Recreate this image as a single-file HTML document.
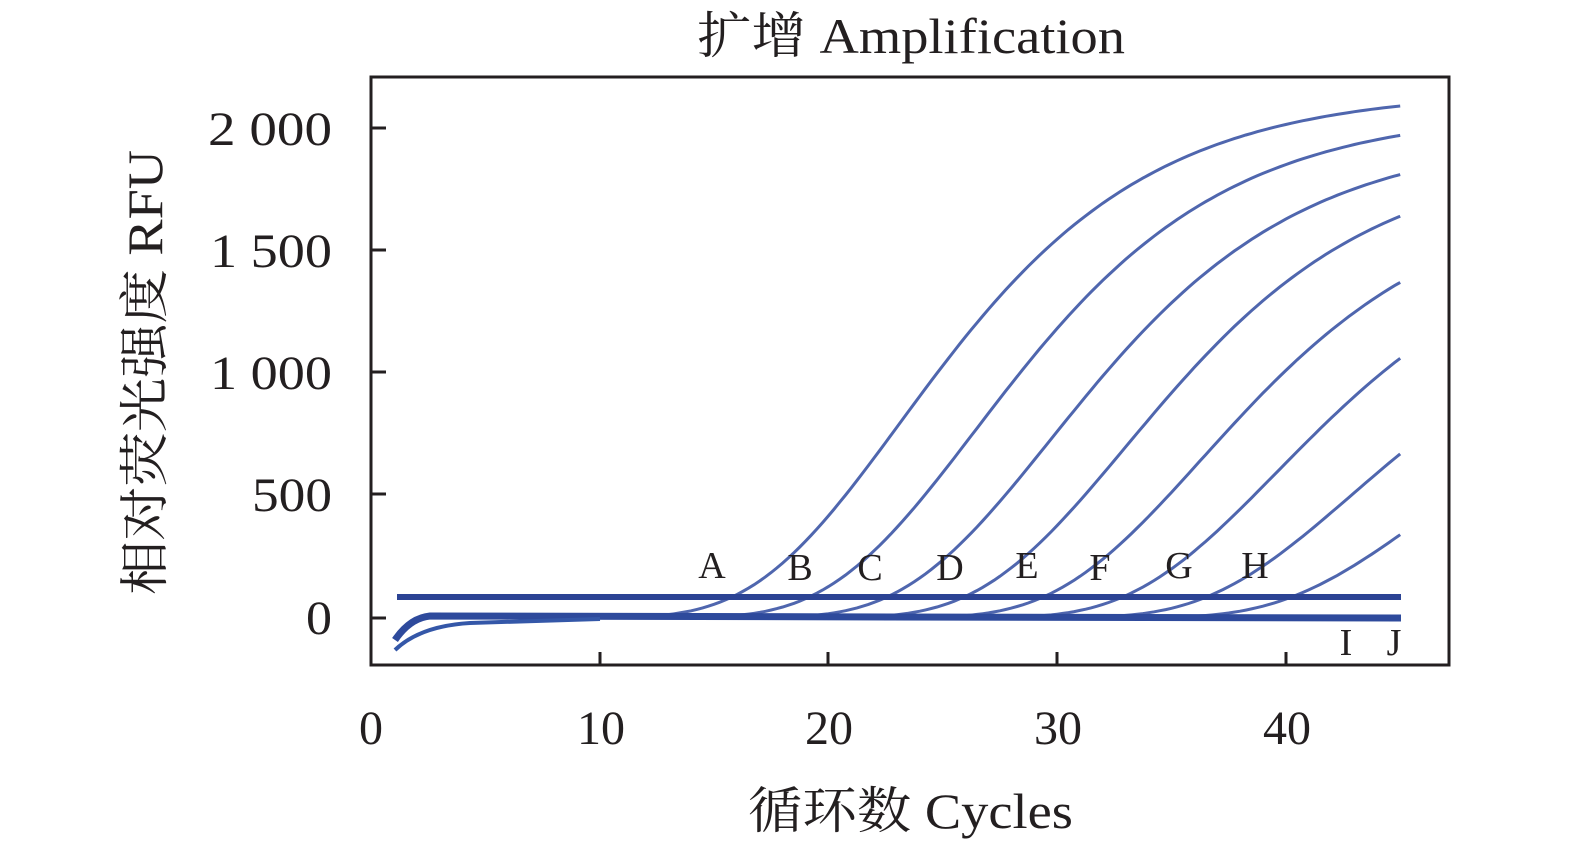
<!DOCTYPE html>
<html><head><meta charset="utf-8"><style>
html,body{margin:0;padding:0;background:#fff}
svg{display:block}
text{font-family:"Liberation Serif","Noto Serif CJK SC",serif;fill:#231f20}
</style></head><body>
<svg id="s" width="1575" height="856" viewBox="0 0 1575 856" xmlns="http://www.w3.org/2000/svg">
<text x="697" y="53" font-size="50" textLength="428" lengthAdjust="spacingAndGlyphs">扩增 Amplification</text>
<text x="748" y="828" font-size="50" textLength="325" lengthAdjust="spacingAndGlyphs">循环数 Cycles</text>
<text transform="translate(162,595) rotate(-90)" font-size="50" textLength="445" lengthAdjust="spacingAndGlyphs">相对荧光强度 RFU</text>
<g font-size="48">
<text x="208" y="145" textLength="124" lengthAdjust="spacingAndGlyphs">2 000</text>
<text x="210" y="267" textLength="122" lengthAdjust="spacingAndGlyphs">1 500</text>
<text x="210" y="389" textLength="122" lengthAdjust="spacingAndGlyphs">1 000</text>
<text x="252" y="511" textLength="80" lengthAdjust="spacingAndGlyphs">500</text>
<text x="306" y="634" textLength="26" lengthAdjust="spacingAndGlyphs">0</text>
</g>
<g font-size="48" text-anchor="middle">
<text x="371" y="744">0</text>
<text x="601" y="744">10</text>
<text x="829" y="744">20</text>
<text x="1058" y="744">30</text>
<text x="1287" y="744">40</text>
</g>
<g id="curves" fill="none" stroke="#4f66ae" stroke-width="3"></g>
<line x1="397" y1="597" x2="1401" y2="597" stroke="#2b4394" stroke-width="6"/>
<path d="M395 640 Q410 618 430 616 L1401 618" fill="none" stroke="#2e4a9c" stroke-width="7"/>
<path d="M395 650 Q420 626 470 623 L600 619" fill="none" stroke="#3457a8" stroke-width="4"/>
<g fill="none" stroke="#231f20" stroke-width="3">
<rect x="371" y="77" width="1078" height="588"/>
<line x1="371" y1="128" x2="386" y2="128"/><line x1="371" y1="250" x2="386" y2="250"/>
<line x1="371" y1="372" x2="386" y2="372"/><line x1="371" y1="494" x2="386" y2="494"/>
<line x1="371" y1="618" x2="386" y2="618"/>
<line x1="600" y1="665" x2="600" y2="652"/><line x1="828" y1="665" x2="828" y2="652"/>
<line x1="1057" y1="665" x2="1057" y2="652"/><line x1="1286" y1="665" x2="1286" y2="652"/>
</g>
<g font-size="38" text-anchor="middle">
<text x="712" y="578">A</text><text x="800" y="580">B</text><text x="870" y="580">C</text>
<text x="950" y="580">D</text><text x="1027" y="578">E</text><text x="1100" y="580">F</text>
<text x="1179" y="578">G</text><text x="1255" y="578">H</text>
<text x="1346" y="655">I</text><text x="1394" y="655">J</text>
</g>
</svg>
<script>
var g=document.getElementById('curves');
var ends=[2090,1970,1810,1640,1370,1060,670,340];
var r=0.16,a=3.6;
for(var i=0;i<8;i++){
 var sh=3.3*i+0.6;
 var F=ends[i]/Math.exp(-Math.exp(a-r*(45-sh)));
 var base=F*Math.exp(-Math.exp(a-r*(2-sh)));
 var d='';
 for(var c=2;c<=45.001;c+=0.25){
  var v=F*Math.exp(-Math.exp(a-r*(c-sh)))-base;
  var x=371+c*22.87, y=618-v*0.245;
  d+=(d?'L':'M')+x.toFixed(1)+' '+y.toFixed(1);
 }
 var p=document.createElementNS('http://www.w3.org/2000/svg','path');
 p.setAttribute('d',d);g.appendChild(p);
}
</script>
</body></html>
